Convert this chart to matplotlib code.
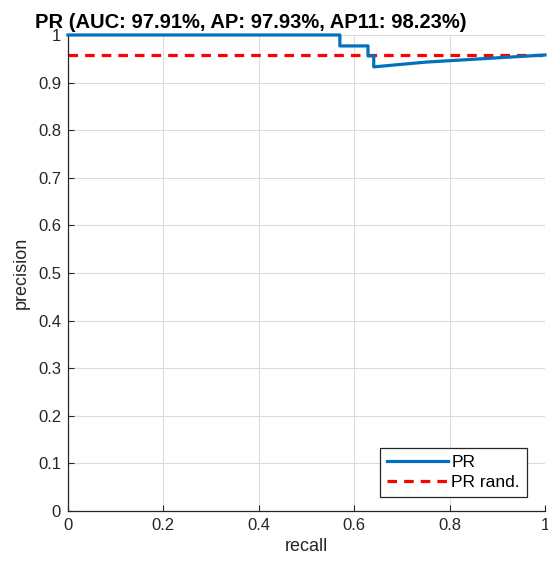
import matplotlib.pyplot as plt
from matplotlib.ticker import FuncFormatter

plt.rcParams['font.family'] = ['Liberation Sans', 'DejaVu Sans']

# PR curve points (recall, precision)
recall = [0.0, 0.570, 0.570, 0.629, 0.629, 0.641, 0.641, 0.75, 1.0]
precision = [1.0, 1.0, 0.977, 0.977, 0.956, 0.956, 0.933, 0.943, 0.958]
rand_level = 0.958

auc, ap, ap11 = 97.91, 97.93, 98.23

fig = plt.figure(figsize=(5.48, 5.68), dpi=100)
ax = fig.add_axes([0.124, 0.1004, 0.8705, 0.838])

ax.plot(recall, precision, color=(0, 0.447, 0.741), lw=2.3, label='PR',
        clip_on=False, zorder=3)
ax.plot([0, 1], [rand_level, rand_level], color='red', lw=2.3,
        ls=(0, (3, 2.2)), label='PR rand.', zorder=2)

ax.set_xlim(0, 1)
ax.set_ylim(0, 1)
ax.set_xticks([0, 0.2, 0.4, 0.6, 0.8, 1])
ax.set_yticks([i / 10 for i in range(11)])
fmt = FuncFormatter(lambda v, p: ('%g' % round(v, 2)))
ax.xaxis.set_major_formatter(fmt)
ax.yaxis.set_major_formatter(fmt)
ax.tick_params(direction='in', length=4, labelsize=12, pad=5,
               color='#262626', labelcolor='#262626')
ax.grid(True, color='#dcdcdc', lw=0.8)
ax.set_axisbelow(True)
for side in ('top', 'right'):
    ax.spines[side].set_visible(False)
for side in ('left', 'bottom'):
    ax.spines[side].set_color('#262626')
    ax.spines[side].set_linewidth(0.9)

ax.set_xlabel('recall', fontsize=13, labelpad=4, color='#262626')
ax.set_ylabel('precision', fontsize=13, labelpad=6, color='#262626')
fig.text(251 / 548, 1 - 28 / 568,
         'PR (AUC: %.2f%%, AP: %.2f%%, AP11: %.2f%%)' % (auc, ap, ap11),
         fontsize=14.5, fontweight='bold', ha='center', va='baseline')

leg = ax.legend(loc='lower right', bbox_to_anchor=(1 - 18 / 477, 14 / 476),
                fontsize=12.5, fancybox=False, framealpha=1,
                edgecolor='#262626', handlelength=3.5, borderaxespad=0,
                handletextpad=0.2, labelspacing=0.3, borderpad=0.4)
leg.get_frame().set_linewidth(0.9)

fig.savefig('out.png', dpi=100)
